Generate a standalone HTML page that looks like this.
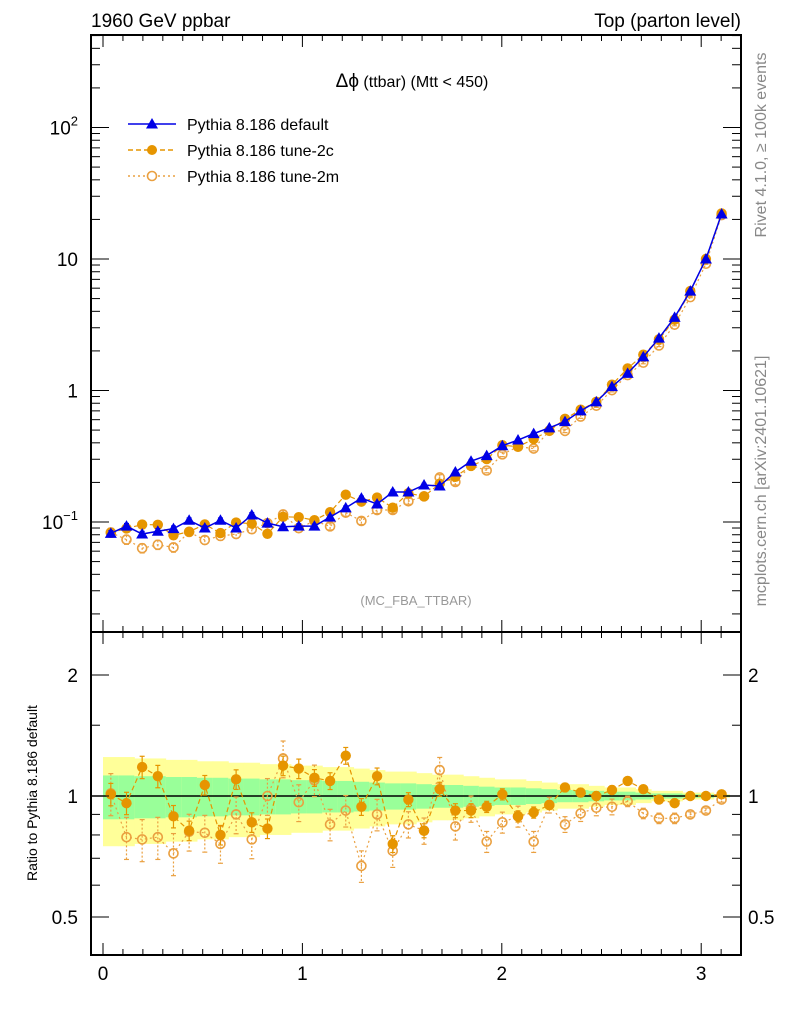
<!DOCTYPE html>
<html><head><meta charset="utf-8"><style>
body{margin:0;background:#fff;}
svg{display:block;font-family:"Liberation Sans",sans-serif;}
</style></head><body>
<svg id="c" width="786" height="1024" viewBox="0 0 786 1024" xmlns="http://www.w3.org/2000/svg">
<rect width="786" height="1024" fill="#fff"/>
<text x="91" y="27" font-size="19">1960 GeV ppbar</text>
<text x="741" y="27" font-size="19" text-anchor="end">Top (parton level)</text>
<text x="412" y="87" font-size="16" text-anchor="middle"><tspan font-size="19">Δϕ</tspan> (ttbar) (Mtt &lt; 450)</text>
<text x="416" y="605" font-size="13" fill="#999" text-anchor="middle">(MC_FBA_TTBAR)</text>
<text transform="translate(766,145) rotate(-90)" font-size="16" fill="#888" text-anchor="middle">Rivet 4.1.0, ≥ 100k events</text>
<text transform="translate(766,481) rotate(-90)" font-size="16" fill="#888" text-anchor="middle">mcplots.cern.ch [arXiv:2401.10621]</text>
<text transform="translate(37,793) rotate(-90)" font-size="14" text-anchor="middle">Ratio to Pythia 8.186 default</text>
<g id="g"></g>
</svg>
<script>
const categories = Array.from({length:40},(_,i)=>(i+0.5)*Math.PI/40);
const defaultVals = [0.082,0.093,0.081,0.085,0.089,0.103,0.090,0.103,0.090,0.113,0.098,0.092,0.093,0.093,0.109,0.128,0.152,0.137,0.169,0.169,0.191,0.188,0.24,0.29,0.32,0.38,0.42,0.47,0.52,0.58,0.70,0.82,1.07,1.35,1.8,2.5,3.6,5.7,10,22];
const ratio2c = [1.01,0.96,1.18,1.12,0.89,0.82,1.065,0.80,1.10,0.86,0.83,1.19,1.17,1.11,1.09,1.26,0.94,1.12,0.76,0.98,0.82,1.04,0.92,0.92,0.94,1.01,0.89,0.91,0.95,1.05,1.02,1.0,1.035,1.09,1.04,0.98,0.96,1.0,1.0,1.01];
const ratio2m = [1.015,0.79,0.78,0.79,0.72,0.815,0.81,0.76,0.90,0.78,1.0,1.24,0.965,1.095,0.85,0.92,0.67,0.90,0.73,0.85,0.82,1.16,0.84,0.93,0.77,0.86,0.89,0.77,0.95,0.85,0.905,0.935,0.94,0.97,0.905,0.88,0.88,0.90,0.92,0.98];
const relErr = [0.08,0.08,0.08,0.08,0.08,0.07,0.07,0.07,0.07,0.07,0.07,0.07,0.07,0.06,0.06,0.06,0.06,0.06,0.06,0.05,0.05,0.05,0.05,0.05,0.04,0.04,0.04,0.04,0.03,0.03,0.03,0.03,0.03,0.02,0.02,0.02,0.02,0.01,0.01,0.01];
const bandUpper = [1.25,1.25,1.24,1.24,1.23,1.23,1.22,1.22,1.21,1.21,1.2,1.2,1.19,1.19,1.18,1.18,1.17,1.16,1.15,1.15,1.14,1.13,1.13,1.12,1.11,1.1,1.1,1.09,1.08,1.07,1.07,1.06,1.05,1.05,1.04,1.03,1.03,1.02,1.02,1.01];
const mainTicks = [["10","2"],["10",""],["1",""],["10","−1"]];
const ratioTicks = ["2","1","0.5"];
const xTicks = ["0","1","2","3"];

const NS="http://www.w3.org/2000/svg", G=document.getElementById('g');
function mk(t,a,p){const e=document.createElementNS(NS,t);for(const k in a)e.setAttribute(k,a[k]);(p||G).appendChild(e);return e;}
const L=91,R=741,MT=35,MB=632,RB=955;
const X=v=>103+199.4*v;
const Ym=v=>522-131.5*(Math.log10(v)+1);
const Yr=v=>796-121*Math.log2(v);
const bw=Math.PI/40;
const BLUE="#0000e6",OR="#e69500",OR2="#eaa040";

for(let i=0;i<40;i++){
  const u=bandUpper[i], lo=2-u, gu=1+(u-1)*0.5, gl=1-(u-1)*0.5;
  const b=mk('rect',{x:X(i*bw),y:Yr(u),width:X((i+1)*bw)-X(i*bw)+0.5,height:Yr(lo)-Yr(u),fill:"#ffff99"});
  
  
  const g=mk('rect',{x:X(i*bw),y:Yr(gu),width:X((i+1)*bw)-X(i*bw)+0.5,height:Yr(gl)-Yr(gu),fill:"#99ff99"});
  
  
}
mk('line',{x1:L,x2:R,y1:Yr(1),y2:Yr(1),stroke:"#000","stroke-width":1.5});

function series(ys,Y,color,dash,kind,name,errScale){
  const pts=categories.map((c,i)=>X(c)+','+Y(ys[i])).join(' ');
  const pl=mk('polyline',{points:pts,fill:"none",stroke:color,"stroke-width":kind==='tri'?1.5:1.2,"stroke-dasharray":dash});
  
  
  categories.forEach((c,i)=>{
    const x=X(c),y=Y(ys[i]),e=relErr[i]*errScale;
    const y1=Y(ys[i]*(1+e)),y2=Y(ys[i]*(1-e));
    mk('line',{x1:x,x2:x,y1:y1,y2:y2,stroke:color,"stroke-width":1.2,"stroke-dasharray":kind==='open'?'2,2':''});
    mk('line',{x1:x-2.5,x2:x+2.5,y1:y1,y2:y1,stroke:color,"stroke-width":1.2});
    mk('line',{x1:x-2.5,x2:x+2.5,y1:y2,y2:y2,stroke:color,"stroke-width":1.2});
    let m;
    if(kind==='tri') m=mk('polygon',{points:`${x},${y-6} ${x-6},${y+4.5} ${x+6},${y+4.5}`,fill:color});
    else if(kind==='fill') m=mk('circle',{cx:x,cy:y,r:5.2,fill:color});
    else m=mk('circle',{cx:x,cy:y,r:4.5,fill:"none",stroke:color,"stroke-width":1.6});
    
    
  });
}
const v2c=defaultVals.map((v,i)=>v*ratio2c[i]);
const v2m=defaultVals.map((v,i)=>v*ratio2m[i]);
series(v2m,Ym,OR2,"2,3",'open','tune-2m',1);
series(v2c,Ym,OR,"5,3",'fill','tune-2c',0.6);
series(defaultVals,Ym,BLUE,"",'tri','default',0.6);
series(ratio2m,Yr,OR2,"2,3",'open','ratio-tune-2m',1.5);
series(ratio2c,Yr,OR,"5,3",'fill','ratio-tune-2c',0.8);

[[MT,MB],[MB,RB]].forEach(([t,b])=>{const f=mk('rect',{x:L,y:t,width:R-L,height:b-t,fill:"none",stroke:"#000","stroke-width":2});});
for(let k=0;k<=31;k++){const v=k/10,x=X(v);if(x<L||x>R)continue;const len=k%10==0?12:6;
  [[RB,-1],[MT,1],[MB,-1],[MB,1]].forEach(([y0,d])=>mk('line',{x1:x,x2:x,y1:y0,y2:y0+d*len,stroke:"#000","stroke-width":1}));}
xTicks.forEach(t=>{const e=mk('text',{x:X(+t),y:980,"font-size":19,"text-anchor":"middle"});e.textContent=t;});
for(let d=-2;d<=2;d++)for(let m=1;m<=9;m++){const v=m*Math.pow(10,d),y=Ym(v);if(y<MT||y>MB)continue;const len=m==1?18:9;
  mk('line',{x1:L,x2:L+len,y1:y,y2:y,stroke:"#000"});mk('line',{x1:R,x2:R-len,y1:y,y2:y,stroke:"#000"});}
[2,1,0,-1].forEach((d,i)=>{const y=Ym(Math.pow(10,d));const t=mk('text',{x:78,y:y+7,"font-size":19,"text-anchor":"end"});
  
  t.textContent=mainTicks[i][0];if(mainTicks[i][1]){const s=mk('tspan',{dy:-9,"font-size":13},t);s.textContent=mainTicks[i][1];}});
[0.5,0.6,0.7,0.8,0.9,1,1.5,2].forEach(v=>{const y=Yr(v),len=(v==0.5||v==1||v==2)?18:9;
  mk('line',{x1:L,x2:L+len,y1:y,y2:y,stroke:"#000"});mk('line',{x1:R,x2:R-len,y1:y,y2:y,stroke:"#000"});});
ratioTicks.forEach(t=>{const y=Yr(+t)+7;
  const a=mk('text',{x:78,y:y,"font-size":19,"text-anchor":"end"});a.textContent=t;
  const b=mk('text',{x:748,y:y,"font-size":19}); b.textContent=t;});
const leg=[["Pythia 8.186 default",BLUE,"",'tri'],["Pythia 8.186 tune-2c",OR,"5,3",'fill'],["Pythia 8.186 tune-2m",OR2,"2,3",'open']];
leg.forEach(([lab,c,dash,k],i)=>{const y=124+i*26;
  const gE=mk('g',{});
  mk('line',{x1:128,x2:176,y1:y,y2:y,stroke:c,"stroke-width":1.5,"stroke-dasharray":dash},gE);
  if(k==='tri')mk('polygon',{points:`152,${y-6} 146,${y+4.5} 158,${y+4.5}`,fill:c},gE);
  else if(k==='fill')mk('circle',{cx:152,cy:y,r:5,fill:c},gE);
  else mk('circle',{cx:152,cy:y,r:4.5,fill:"#fff",stroke:c,"stroke-width":1.6},gE);
  const t=mk('text',{x:187,y:y+6,"font-size":16},gE);t.textContent=lab;});
</script>
</body></html>
